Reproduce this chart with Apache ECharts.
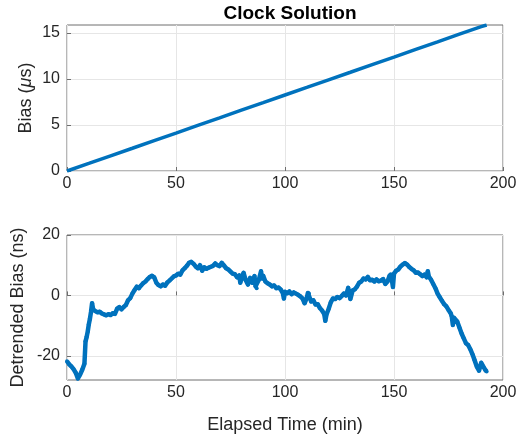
<!DOCTYPE html>
<html>
<head>
<meta charset="utf-8">
<script src="https://cdn.jsdelivr.net/npm/echarts@6/dist/echarts.min.js"></script>
<style>
html,body{margin:0;padding:0;background:#fff;}
#chart{width:531px;height:436px;}
</style>
</head>
<body>
<div id="chart"></div>
<script>
// Top panel: clock bias (microseconds)
const biasMinutes = [0, 10, 20, 30, 40, 50, 60, 70, 80, 90, 100, 110, 120, 130, 140, 150, 160, 170, 180, 190, 192.5];
const biasUs = [0, 0.82, 1.65, 2.47, 3.30, 4.12, 4.95, 5.77, 6.60, 7.42, 8.25, 9.07, 9.90, 10.72, 11.55, 12.37, 13.20, 14.02, 14.85, 15.67, 15.85];

// Bottom panel: detrended bias (nanoseconds)
const detMinutes = [0,1,2,3,4,5,6,7,8,8.5,9,9.5,10,10.5,11,11.5,12,13,14,15,16,17,18,19,20,21,22,23,24,25,26,27,28,29,30,31,32,33,34,35,36,37,38,39,40,41,42,43,44,45,46,47,48,49,50,51,52,53,54,55,56,57,58,59,60,61,62,63,64,65,66,67,68,69,70,71,72,73,74,75,76,77,78,79,79.5,80,81,82,83,84,85,86,86.5,87,88,89,89.5,90,91,92,93,94,95,96,97,98,99,99.5,100,101,102,103,104,105,106,107,108,109,110,110.5,111,112,113,114,115,116,117,118,118.5,119,120,121,122,123,124,125,126,127,128,129,129.5,130,131,132,133,134,135,136,137,138,139,140,141,142,143,144,145,146,147,148,148.5,149,149.5,150,151,152,153,154,155,156,157,158,159,160,161,162,163,164,165,165.5,166,167,168,169,170,171,172,173,174,175,176,176.5,177,177.5,178,179,180,181,182,183,184,185,186,187,188,189,190,191,192,192.5];
const detrendedNs = [-21.8,-22.8,-23.5,-24.4,-25.6,-27.5,-26.2,-24.6,-22.6,-15.2,-13.8,-12.0,-9.6,-7.8,-5.5,-2.6,-4.6,-5.2,-5.6,-5.4,-6.0,-6.3,-6.6,-6.2,-6.5,-5.9,-6.1,-4.4,-3.9,-4.6,-3.8,-3.2,-1.6,-0.9,0.6,1.8,2.9,2.4,3.3,4.1,4.6,5.4,6.1,6.5,6.0,4.2,3.4,3.0,3.6,3.2,4.3,4.9,5.6,6.3,6.6,7.2,6.9,8.3,9.0,9.8,10.8,11.1,10.5,9.6,9.0,10.0,8.2,9.3,8.8,9.2,9.5,9.8,10.6,10.0,9.7,10.8,9.9,9.0,8.6,7.9,7.2,7.0,6.0,6.6,4.2,5.5,7.5,5.0,3.6,5.8,4.2,6.4,3.0,2.4,5.2,8.0,5.6,6.5,4.6,4.0,3.6,3.0,3.3,2.4,2.6,2.0,0.8,-1.0,1.2,0.7,1.3,0.4,1.0,0.6,0.2,-0.3,-1.0,-2.6,-0.8,0.8,0.6,-2.0,-1.6,-3.0,-2.9,-4.2,-5.0,-6.2,-8.4,-6.4,-4.5,-2.3,-1.0,-1.2,-0.5,-0.9,-0.2,0.6,0.0,2.5,0.5,-1.2,1.6,2.0,2.9,4.2,4.6,5.6,5.3,6.1,5.0,5.2,4.6,5.3,4.7,4.9,5.4,3.8,4.6,6.6,7.0,5.2,2.8,7.2,8.2,8.6,9.6,10.2,10.7,10.2,9.4,8.8,8.3,7.5,7.6,7.0,6.4,6.9,6.0,8.0,6.2,5.2,3.8,2.4,0.6,-0.6,-1.8,-2.9,-3.6,-4.8,-5.9,-7.0,-9.8,-7.4,-8.0,-8.6,-10.6,-12.6,-14.2,-15.8,-16.4,-17.8,-19.5,-21.5,-23.6,-24.9,-22.3,-23.6,-24.8,-25.2];

const xTicks = [0, 50, 100, 150, 200];
const topYTicks = [0, 5, 10, 15];
const bottomYTicks = [-20, 0, 20];

const pair = (xs, ys) => xs.map((x, i) => [x, ys[i]]);

const FONT = '"Liberation Sans", Arial, Helvetica, sans-serif';
const TXT = '#262626';
const BORDER = '#6e6e6e';
const GRIDC = '#e6e6e6';
const BLUE = '#0072BD';

function xAxisCfg(gridIndex, name) {
  return {
    type: 'value', gridIndex, min: 0, max: 200,
    name: name || '', nameLocation: 'middle', nameGap: 36, nameMoveOverlap: false,
    nameTextStyle: { fontFamily: FONT, fontSize: 18, color: TXT },
    axisLine: { show: false },
    axisTick: { show: true, inside: true, length: 4, customValues: xTicks, lineStyle: { color: BORDER } },
    axisLabel: { customValues: xTicks, fontFamily: FONT, fontSize: 16, color: TXT, margin: 5 },
    splitLine: { show: true, lineStyle: { color: GRIDC, width: 1 } }
  };
}
function yAxisCfg(gridIndex, ticks, min, max, name, rich, gap) {
  return {
    type: 'value', gridIndex, min, max,
    name, nameLocation: 'middle', nameGap: gap, nameMoveOverlap: false,
    nameTextStyle: { fontFamily: FONT, fontSize: 18, color: TXT, rich: rich || {} },
    axisLine: { show: false },
    axisTick: { show: true, inside: true, length: 4, customValues: ticks, lineStyle: { color: BORDER } },
    axisLabel: { customValues: ticks, fontFamily: FONT, fontSize: 16, color: TXT, margin: 7 },
    splitLine: { show: true, lineStyle: { color: GRIDC, width: 1 } }
  };
}

const chart = echarts.init(document.getElementById('chart'), null, { renderer: 'canvas' });
chart.setOption({
  animation: false,
  backgroundColor: '#ffffff',
  title: {
    text: 'Clock Solution', left: 285, top: -1, textAlign: 'center',
    textStyle: { fontFamily: FONT, fontSize: 19, fontWeight: 'bold', color: '#000' }
  },
  grid: [
    { left: 67, right: 28, top: 25, height: 146, show: true, borderColor: BORDER, borderWidth: 1, backgroundColor: 'transparent' },
    { left: 67, right: 28, top: 235, height: 145, show: true, borderColor: BORDER, borderWidth: 1, backgroundColor: 'transparent' }
  ],
  xAxis: [xAxisCfg(0), xAxisCfg(1, 'Elapsed Time (min)')],
  yAxis: [
    yAxisCfg(0, topYTicks, 0, 15.85, 'Bias ({i|μ}s)', { i: { fontStyle: 'italic', fontFamily: FONT, fontSize: 18, color: TXT } }, 32),
    yAxisCfg(1, bottomYTicks, -28, 20, 'Detrended Bias (ns)', null, 40)
  ],
  series: [
    {
      type: 'line', xAxisIndex: 0, yAxisIndex: 0, data: pair(biasMinutes, biasUs),
      showSymbol: false, lineStyle: { color: BLUE, width: 3.5 }, clip: true
    },
    {
      type: 'line', xAxisIndex: 1, yAxisIndex: 1, data: pair(detMinutes, detrendedNs),
      symbol: 'circle', symbolSize: 4, showSymbol: true,
      itemStyle: { color: BLUE }, lineStyle: { color: BLUE, width: 4.5, join: 'round' }, clip: false
    }
  ]
});
</script>
</body>
</html>
